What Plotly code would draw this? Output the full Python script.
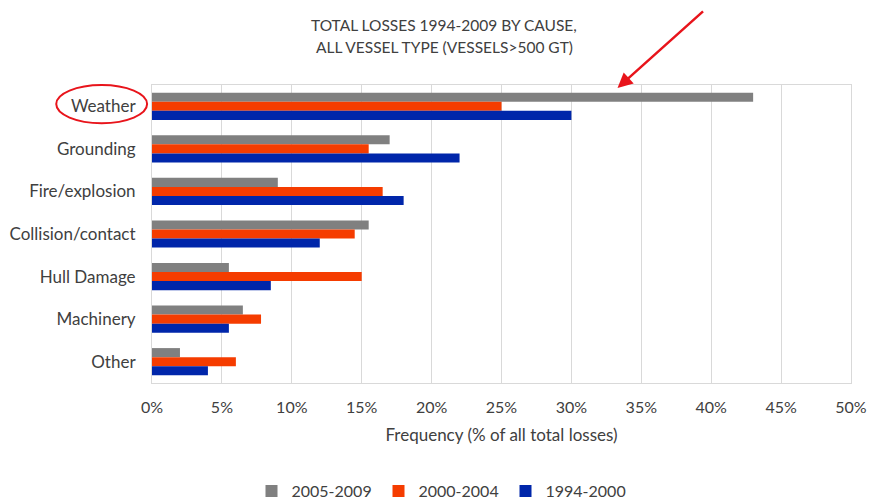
import plotly.graph_objects as go

categories = ["Weather", "Grounding", "Fire/explosion", "Collision/contact",
              "Hull Damage", "Machinery", "Other"]
s2005_2009 = [43, 17, 9, 15.5, 5.5, 6.5, 2]
s2000_2004 = [25, 15.5, 16.5, 14.5, 15, 7.8, 6]
s1994_2000 = [30, 22, 18, 12, 8.5, 5.5, 4]
series_names = ["2005-2009", "2000-2004", "1994-2000"]
colors = ["#808080", "#F53C00", "#0026AA"]
x_ticks = list(range(0, 51, 5))
x_tick_labels = [f"{v}%" for v in x_ticks]
title_lines = ["TOTAL LOSSES 1994-2009 BY CAUSE,", "ALL VESSEL TYPE (VESSELS>500 GT)"]

FONT = "Lato, Carlito, 'Open Sans', sans-serif"
TXT = "#404040"

fig = go.Figure()
for name, vals, col in zip(series_names, [s2005_2009, s2000_2004, s1994_2000], colors):
    fig.add_trace(go.Bar(
        y=categories, x=vals, name=name, orientation="h",
        marker=dict(color=col, line=dict(width=0)),
    ))

fig.update_layout(
    width=870, height=500,
    paper_bgcolor="white", plot_bgcolor="white",
    margin=dict(l=152, r=19, t=85, b=117),
    barmode="group", bargap=0.36, bargroupgap=0,
    font=dict(family=FONT, color=TXT, size=16),
    showlegend=True,
    legend=dict(orientation="h", x=(442 - 152) / 699, xanchor="center", xref="paper",
                y=1 - 491 / 500, yanchor="middle", yref="container",
                font=dict(size=16, color=TXT), traceorder="normal",
                itemwidth=30, entrywidth=82, entrywidthmode="pixels"),
)
fig.update_xaxes(
    range=[0, 50], tickvals=x_ticks, ticktext=x_tick_labels,
    showgrid=True, gridcolor="#D9D9D9", gridwidth=1,
    showline=True, linecolor="#D9D9D9", mirror=True, zeroline=False,
    tickfont=dict(size=16, color=TXT), ticklabelstandoff=10,
    title=dict(text="Frequency (% of all total losses)", font=dict(size=17, color=TXT), standoff=13),
    ticks="", fixedrange=True, automargin=False,
)
fig.update_yaxes(
    autorange="reversed", showgrid=False,
    showline=True, linecolor="#D9D9D9", mirror=True,
    tickfont=dict(size=17, color=TXT), ticks="", ticklabelstandoff=12,
    automargin=False, fixedrange=True,
)

# Two-line chart title
for i, line in enumerate(title_lines):
    fig.add_annotation(text=line, xref="paper", yref="paper",
                       x=(444 - 152) / 699, y=1 + (85 - 25 - 22 * i) / 298,
                       xanchor="center", yanchor="middle", showarrow=False,
                       font=dict(size=15.5, color=TXT, family=FONT))

# Red ellipse around "Weather"
fig.add_shape(type="circle", xref="paper", yref="paper",
              x0=-0.137, x1=-0.007, y0=0.872, y1=1.0,
              line=dict(color="#E8141B", width=2), fillcolor="rgba(0,0,0,0)")
# Red arrow
fig.add_annotation(x=33.3, y=0.99, xref="x", yref="paper",
                   ax=87, ay=-78, axref="pixel", ayref="pixel",
                   showarrow=True, arrowhead=2, arrowsize=1.2, arrowwidth=2.5,
                   arrowcolor="#E8141B", text="")

fig.write_html("out.html", config={"displayModeBar": False},
               post_script="document.body.style.margin='0';")
